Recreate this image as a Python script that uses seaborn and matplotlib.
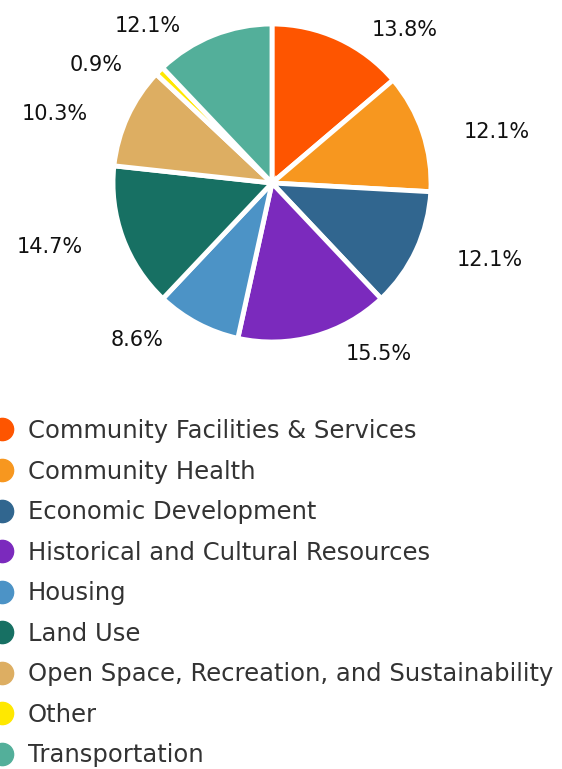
import matplotlib
matplotlib.use("Agg")
import matplotlib.pyplot as plt
from matplotlib.lines import Line2D
import seaborn as sns

# Anteile je Themenbereich (im Uhrzeigersinn ab 12 Uhr)
CATEGORIES = [
    "Community Facilities & Services",
    "Community Health",
    "Economic Development",
    "Historical and Cultural Resources",
    "Housing",
    "Land Use",
    "Open Space, Recreation, and Sustainability",
    "Other",
    "Transportation",
]
SHARES = [13.8, 12.1, 12.1, 15.5, 8.6, 14.7, 10.3, 0.9, 12.1]
COLORS = ["#FE5500", "#F7971F", "#31668F", "#7B2ABD", "#4C93C6",
          "#177063", "#DDAE62", "#FFE800", "#53AF9A"]

sns.set_theme(style="white")
plt.rcParams["font.family"] = ["DejaVu Sans"]
palette = sns.color_palette(COLORS)

W, H = 562, 769
fig = plt.figure(figsize=(W / 100, H / 100), dpi=100)

# Kreisdiagramm: Mittelpunkt ca. (272, 183) px, Radius ca. 159 px
cx, cy, r = 272, 183, 159
ax = fig.add_axes([(cx - r) / W, (H - cy - r) / H, 2 * r / W, 2 * r / H])
labels = [f"{v:.1f}%" for v in SHARES]
wedges, texts = ax.pie(
    SHARES, colors=palette, startangle=90, counterclock=False,
    labels=labels, labeldistance=1.09,
    textprops={"fontsize": 15, "color": "#111111"},
    wedgeprops={"edgecolor": "white", "linewidth": 3.5},
)
# Beschriftungen wie im Original etwas seitlich vom Kreis absetzen
for t in texts:
    x, y = t.get_position()
    shift = 0.17 if x > 0 else -0.17
    t.set_position((x + shift, y - 0.025))
ax.set_xlim(-1, 1)
ax.set_ylim(-1, 1)
ax.axis("off")

handles = [Line2D([0], [0], marker="o", linestyle="", markersize=16,
                  markerfacecolor=c, markeredgecolor=c) for c in COLORS]
leg = fig.legend(handles, CATEGORIES, loc="upper left",
                 bbox_to_anchor=(-0.018, 1 - 419 / H), frameon=False,
                 fontsize=17.5, labelspacing=0.68, handlelength=1.0,
                 handletextpad=0.57, borderaxespad=0, borderpad=0)
for t in leg.get_texts():
    t.set_color("#333333")

fig.savefig("out.png", dpi=100)
